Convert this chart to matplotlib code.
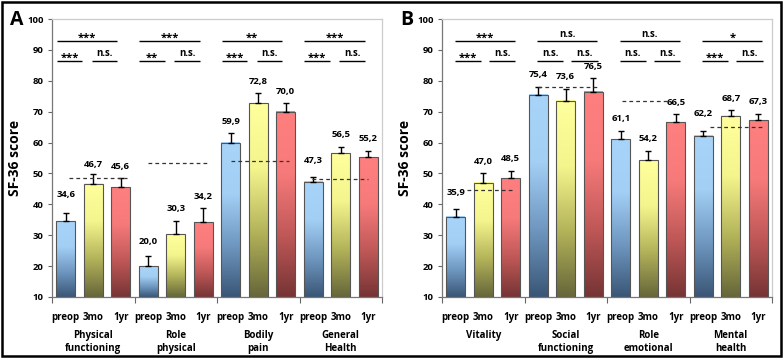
import numpy as np
import matplotlib.pyplot as plt
from matplotlib.colors import LinearSegmentedColormap
from matplotlib.patches import Rectangle
import matplotlib.transforms as mtransforms

plt.rcParams['font.family'] = ['Open Sans', 'DejaVu Sans']
plt.rcParams['font.weight'] = 'bold'

timepoints = ['preop', '3mo', '1yr']

# panel A - physical domains
groups_a = ['Physical\nfunctioning', 'Role\nphysical', 'Bodily\npain', 'General\nHealth']
means_a = [[34.6, 46.7, 45.6], [20.0, 30.3, 34.2], [59.9, 72.8, 70.0], [47.3, 56.5, 55.2]]
errs_a = [[2.7, 3.2, 2.8], [3.3, 4.4, 4.6], [3.1, 3.1, 2.7], [1.7, 2.1, 2.1]]
norms_a = [48.4, 53.4, 54.1, 48.3]
sig_all_a = ['***', '***', '**', '***']
sig_pre3_a = ['***', '**', '***', '***']
sig_31_a = ['n.s.', 'n.s.', 'n.s.', 'n.s.']

# panel B - mental domains
groups_b = ['Vitality', 'Social\nfunctioning', 'Role\nemotional', 'Mental\nhealth']
means_b = [[35.9, 47.0, 48.5], [75.4, 73.6, 76.5], [61.1, 54.2, 66.5], [62.2, 68.7, 67.3]]
errs_b = [[2.5, 3.0, 2.4], [2.7, 3.9, 4.3], [2.7, 3.1, 2.7], [1.6, 1.8, 2.1]]
norms_b = [44.6, 78.1, 73.6, 65.1]
sig_all_b = ['***', 'n.s.', 'n.s.', '*']
sig_pre3_b = ['***', 'n.s.', 'n.s.', '***']
sig_31_b = ['n.s.', 'n.s.', 'n.s.', 'n.s.']

# layout bits (slot units)
norm_span_a = [(0.12, 2.23), (2.99, 5.14), (6.01, 8.12), (8.95, 10.99)]
norm_span_b = [(0.41, 2.08), (2.99, 5.17), (6.05, 7.68), (9.25, 11.25)]
sig_span_a = {'all': (-0.32, 1.88), 'left': (-0.32, 0.6), 'right': (0.95, 1.88)}
sig_span_b = {'all': (-0.03, 2.15), 'left': (-0.03, 0.9), 'right': (1.2, 2.17)}
label_dy_a = {(0, 0): 18, (0, 1): 9, (1, 0): 14, (3, 0): 16.5}
label_dy_b = {(0, 0): 17, (3, 0): 17}

cmaps = [
    LinearSegmentedColormap.from_list('b', ['#3a5676', '#6f97c0', '#a3cff5', '#a8d4fa']),
    LinearSegmentedColormap.from_list('y', ['#66663a', '#b3b35a', '#f5f58e', '#ffff9c']),
    LinearSegmentedColormap.from_list('r', ['#763434', '#c05858', '#f77a7a', '#ff7f7f']),
]
grad = np.linspace(0, 1, 256).reshape(-1, 1)

W, H = 784, 359
fig = plt.figure(figsize=(W / 100, H / 100), dpi=100)


def draw_panel(ax, groups, means, errs, norms, sig_all, sig_pre3, sig_31,
               norm_span, sig_span, label_dy):
    width = 0.69
    for g in range(4):
        for j in range(3):
            x = g * 3 + j
            m = means[g][j]
            e = errs[g][j]
            ax.imshow(grad, cmap=cmaps[j], origin='lower', aspect='auto',
                      extent=[x - width / 2, x + width / 2, 10, m], zorder=2)
            ax.add_patch(Rectangle((x - width / 2, 10), width, m - 10, fill=False,
                                   edgecolor='#555555', linewidth=0.8, zorder=3))
            ax.errorbar(x, m, yerr=[[0], [e]], fmt='none', ecolor='black',
                        elinewidth=1.0, capsize=2.5, capthick=1.0, zorder=4)
            dy = label_dy.get((g, j), 12) * 0.72
            ax.annotate(f'{m:.1f}'.replace('.', ','), (x, m + e),
                        xytext=(0, dy), textcoords='offset points',
                        ha='center', va='center', fontsize=6.8, fontweight='bold',
                        zorder=5)
        x0, x1 = norm_span[g]
        ax.plot([x0, x1], [norms[g], norms[g]], color='#333333', lw=0.9,
                ls=(0, (3, 2.5)), zorder=4)
        base = g * 3
        for key, yv, txt in [('all', 92.9, sig_all[g]), ('left', 86.5, sig_pre3[g]),
                             ('right', 86.5, sig_31[g])]:
            a, b = sig_span[key]
            ax.plot([base + a, base + b], [yv, yv], color='black', lw=1.0,
                    solid_capstyle='butt')
            star = '*' in txt
            ax.annotate(txt, ((2 * base + a + b) / 2, yv), xytext=(0, -2 if star else 1),
                        textcoords='offset points', ha='center', va='bottom',
                        fontsize=8 if star else 7, fontweight='bold')

    ax.set_xlim(-0.5, 11.5)
    ax.set_ylim(10, 100)
    ax.set_yticks(range(10, 101, 10))
    ax.tick_params(axis='y', direction='out', length=3, width=0.8, labelsize=6.8,
                   pad=3, color='#666666')
    ax.set_xticks(range(12))
    ax.set_xticklabels(timepoints * 4, fontsize=7, fontweight='bold')
    ax.tick_params(axis='x', which='major', length=0, pad=11)
    ax.set_xticks([-0.5, 2.5, 5.5, 8.5, 11.5], minor=True)
    ax.tick_params(axis='x', which='minor', direction='out', length=4, width=0.8,
                   color='#666666')
    for lab in ax.get_yticklabels():
        lab.set_fontweight('bold')
    for side in ['left', 'bottom']:
        ax.spines[side].set_color('#777777')
        ax.spines[side].set_linewidth(0.9)
    for side in ['top', 'right']:
        ax.spines[side].set_color('#cccccc')
        ax.spines[side].set_linewidth(0.9)
    trans = mtransforms.blended_transform_factory(ax.transData, ax.transAxes)
    for g, name in enumerate(groups):
        ax.text(g * 3 + 1, -0.12, name, transform=trans, ha='center', va='top',
                fontsize=7, fontweight='bold', linespacing=1.25)
    ax.set_ylabel('SF-36 score', fontsize=10, fontweight='bold')
    ax.yaxis.set_label_coords(-0.09, 0.5)


bottom = 1 - 297 / H
height = (297 - 19) / H
ax_a = fig.add_axes([52 / W, bottom, 330 / W, height])
ax_b = fig.add_axes([442 / W, bottom, 330 / W, height])

draw_panel(ax_a, groups_a, means_a, errs_a, norms_a, sig_all_a, sig_pre3_a, sig_31_a,
           norm_span_a, sig_span_a, label_dy_a)
draw_panel(ax_b, groups_b, means_b, errs_b, norms_b, sig_all_b, sig_pre3_b, sig_31_b,
           norm_span_b, sig_span_b, label_dy_b)

fig.text(17 / W, 1 - 20 / H, 'A', fontsize=14, fontweight='bold', ha='center', va='center')
fig.text(407 / W, 1 - 20 / H, 'B', fontsize=14, fontweight='bold', ha='center', va='center')

fig.patches.append(Rectangle((2 / W, 3 / H), 779 / W, 354 / H, transform=fig.transFigure,
                             fill=False, edgecolor='black', linewidth=1.8))

fig.savefig('out.png', dpi=100)
